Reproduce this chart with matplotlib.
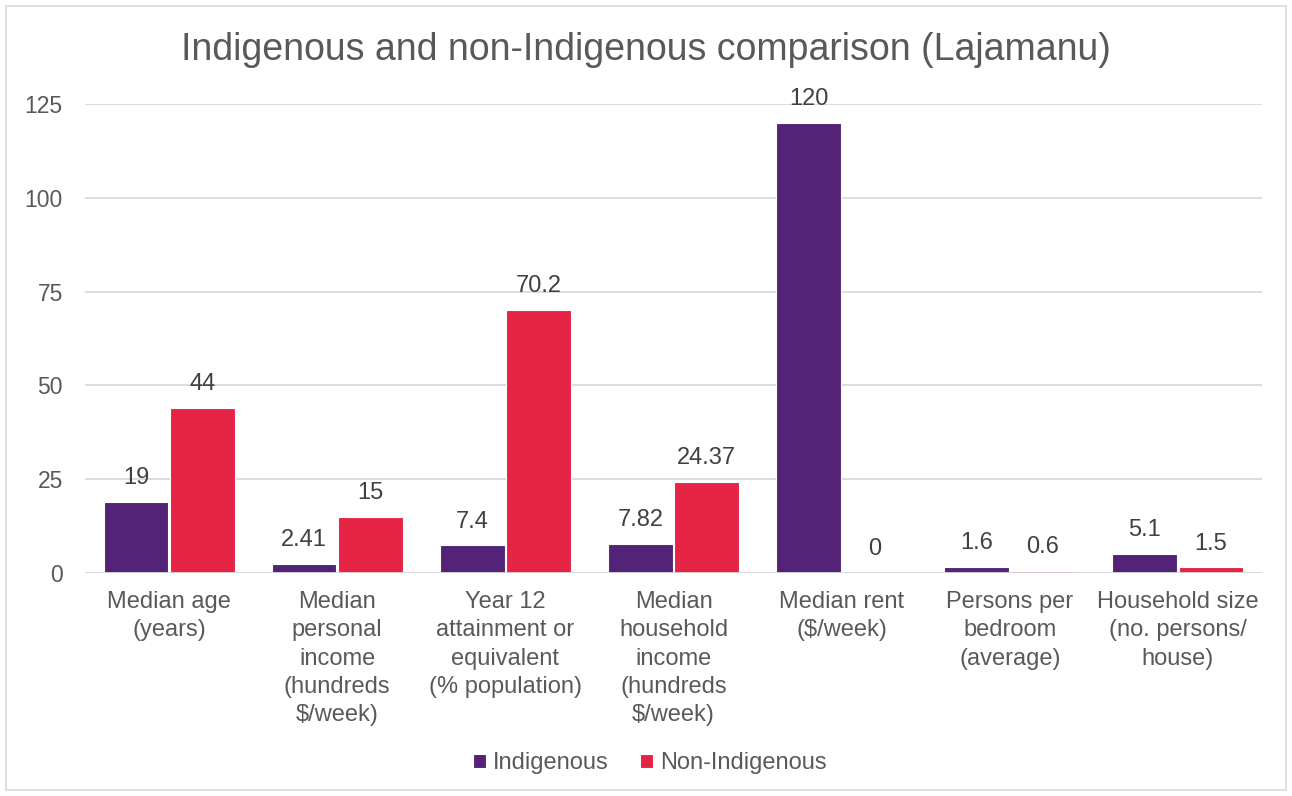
import matplotlib
matplotlib.use("Agg")
import matplotlib.pyplot as plt
from matplotlib.patches import Rectangle
import numpy as np

plt.rcParams['font.family'] = ['Liberation Sans', 'DejaVu Sans']

categories = ["Median age\n(years)",
              "Median\npersonal\nincome\n(hundreds\n$/week)",
              "Year 12\nattainment or\nequivalent\n(% population)",
              "Median\nhousehold\nincome\n(hundreds\n$/week)",
              "Median rent\n($/week)",
              "Persons per\nbedroom\n(average)",
              "Household size\n(no. persons/\nhouse)"]
indigenous = [19, 2.41, 7.4, 7.82, 120, 1.6, 5.1]
non_indigenous = [44, 15, 70.2, 24.37, 0, 0.6, 1.5]
ind_labels = ["19", "2.41", "7.4", "7.82", "120", "1.6", "5.1"]
non_labels = ["44", "15", "70.2", "24.37", "0", "0.6", "1.5"]
yticks = [0, 25, 50, 75, 100, 125]

c_ind = "#522376"
c_non = "#E52445"
txt = "#595959"
lbl = "#404040"

fig = plt.figure(figsize=(12.92, 7.96), dpi=100)
ax = fig.add_axes([0.0658, 0.2802, 0.911, 0.5891])

x = np.arange(len(categories))
w = 0.385
off = 0.197
b1 = ax.bar(x - off, indigenous, w, color=c_ind, edgecolor="white", linewidth=0.8, zorder=3, label="Indigenous")
b2 = ax.bar(x + off, non_indigenous, w, color=c_non, edgecolor="white", linewidth=0.8, zorder=3, label="Non-Indigenous")

for bars, labs in ((b1, ind_labels), (b2, non_labels)):
    for r, s in zip(bars, labs):
        ax.annotate(s, (r.get_x() + r.get_width() / 2, r.get_height()),
                    xytext=(0, 9), textcoords="offset points",
                    ha="center", va="bottom", fontsize=17, color=lbl)

ax.set_xlim(-0.5, len(categories) - 0.5)
ax.set_ylim(0, 125)
ax.set_yticks(yticks)
ax.set_yticklabels([str(v) for v in yticks])
ax.yaxis.grid(True, color="#D9D9D9", linewidth=1.3, zorder=0)
ax.set_axisbelow(True)
for s in ax.spines.values():
    s.set_visible(False)
ax.tick_params(axis="y", length=0, pad=16, labelsize=16.5, labelcolor=txt)
ax.set_xticks(x)
ax.set_xticklabels(categories, fontsize=17, color=txt, linespacing=1.37, va="top")
ax.tick_params(axis="x", length=0, pad=13)
ax.axhline(0, color="#D9D9D9", linewidth=1.3, zorder=4)

fig.text(0.5, 0.937, "Indigenous and non-Indigenous comparison (Lajamanu)",
         ha="center", va="center", fontsize=27, color=txt)

leg = fig.legend(loc="center", bbox_to_anchor=(0.503, 0.041), ncol=2, frameon=False,
                 fontsize=17, handlelength=0.55, handleheight=0.55, handletextpad=0.3,
                 columnspacing=1.3)
for t in leg.get_texts():
    t.set_color(txt)

fig.patches.append(Rectangle((6 / 1292, 6 / 796), 1 - 12 / 1292, 1 - 12 / 796,
                             transform=fig.transFigure, fill=False,
                             edgecolor="#D9D9D9", linewidth=1.2))

fig.savefig("out.png", dpi=100, facecolor="white")
